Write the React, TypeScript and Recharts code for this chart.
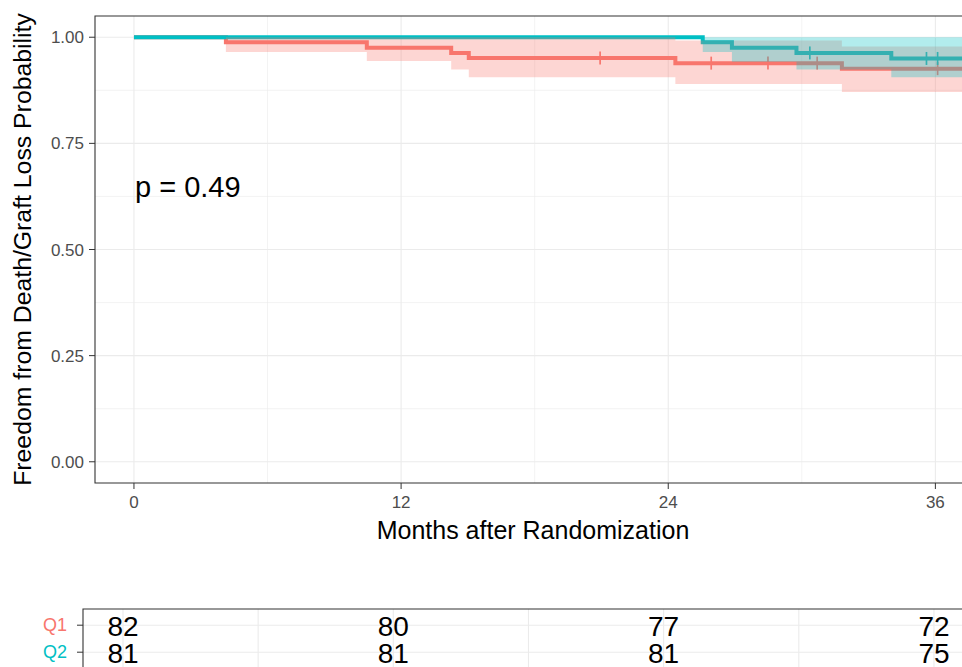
import React from "react";
import {
  ComposedChart,
  Line,
  Area,
  Scatter,
  XAxis,
  YAxis,
  CartesianGrid,
  ReferenceArea,
  ReferenceDot,
  Label,
} from "recharts";

const FONT = '"Liberation Sans", Arial, Helvetica, sans-serif';
const RED = "#F8766D";
const TEAL = "#00BFC4";

// Q1 Kaplan-Meier estimate (months after randomization)
const q1Time = [0, 4.13, 10.46, 14.25, 15.04, 24.32, 31.8, 37.4];
const q1Surv = [1, 0.988, 0.975, 0.963, 0.951, 0.939, 0.926, 0.926];
const q1Lower = [1, 0.965, 0.944, 0.924, 0.906, 0.89, 0.871, 0.871];
const q1Upper = [1, 1, 1, 1, 1, 0.992, 0.978, 0.978];
const q1CensorTime = [20.94, 25.93, 28.48, 30.69, 36.1];
const q1CensorSurv = [0.951, 0.939, 0.939, 0.939, 0.926];

// Q2 Kaplan-Meier estimate
const q2Time = [0, 25.55, 26.86, 29.76, 34.02, 37.4];
const q2Surv = [1, 0.988, 0.975, 0.963, 0.95, 0.95];
const q2Lower = [1, 0.965, 0.942, 0.924, 0.906, 0.906];
const q2Upper = [1, 1, 1, 1, 1, 1];
const q2CensorTime = [30.36, 35.6, 36.1];
const q2CensorSurv = [0.963, 0.95, 0.95];

// axes
const xTicks = [0, 12, 24, 36];
const xMinor = [6, 18, 30];
const yTicks = [0, 0.25, 0.5, 0.75, 1];
const yMinor = [0.125, 0.375, 0.625, 0.875];

// number at risk table
const riskTimes = [0, 12, 24, 36];
const q1Risk = [82, 80, 77, 72];
const q2Risk = [81, 81, 81, 75];
const rowLabels = ["Q1", "Q2"];
const rowColors = [RED, TEAL];

const toCurve = (time: number[], surv: number[], lo: number[], hi: number[]) =>
  time.map((t, i) => ({ t, s: surv[i], ci: [lo[i], hi[i]] }));

const q1Data = toCurve(q1Time, q1Surv, q1Lower, q1Upper);
const q2Data = toCurve(q2Time, q2Surv, q2Lower, q2Upper);
const q1Censor = q1CensorTime.map((t, i) => ({ t, s: q1CensorSurv[i] }));
const q2Censor = q2CensorTime.map((t, i) => ({ t, s: q2CensorSurv[i] }));

const q1Table = riskTimes.map((t, i) => ({ t, row: 1, n: q1Risk[i] }));
const q2Table = riskTimes.map((t, i) => ({ t, row: 2, n: q2Risk[i] }));

const X_DOMAIN: [number, number] = [-1.75, 37.6];

const plus = (color: string) => (props: any) => {
  const { cx, cy } = props;
  if (cx == null || cy == null) return <g />;
  return (
    <g>
      <line x1={cx - 5.5} x2={cx + 5.5} y1={cy} y2={cy} stroke={color} strokeWidth={1.7} />
      <line x1={cx} x2={cx} y1={cy - 6.5} y2={cy + 6.5} stroke={color} strokeWidth={1.7} />
    </g>
  );
};

const riskNumber = (props: any) => {
  const { cx, cy, payload } = props;
  return (
    <text
      x={cx}
      y={cy + 1.5}
      textAnchor="middle"
      dominantBaseline="central"
      fontFamily={FONT}
      fontSize={28}
      fill="#000"
    >
      {payload.n}
    </text>
  );
};

const RowTick = (props: any) => {
  const { x, y, payload } = props;
  const i = payload.value - 1;
  return (
    <text
      x={x}
      y={y}
      textAnchor="end"
      dominantBaseline="central"
      fontFamily={FONT}
      fontSize={18}
      fill={rowColors[i]}
    >
      {rowLabels[i]}
    </text>
  );
};

const tickStyle = { fill: "#4D4D4D", fontSize: 17, fontFamily: FONT };

export default function App() {
  return (
    <div
      style={{
        position: "absolute",
        left: 0,
        top: 0,
        width: 962,
        height: 667,
        overflow: "hidden",
        background: "#fff",
      }}
    >
      <div style={{ position: "absolute", left: 0, top: 0 }}>
        <ComposedChart
          width={1000}
          height={563}
          margin={{ top: 16, right: 29, left: 0, bottom: 0 }}
        >
          <CartesianGrid
            verticalValues={xMinor}
            horizontalValues={yMinor}
            stroke="#EBEBEB"
            strokeWidth={0.6}
          />
          <CartesianGrid
            verticalValues={xTicks}
            horizontalValues={yTicks}
            stroke="#EBEBEB"
            strokeWidth={1.1}
          />
          <XAxis
            type="number"
            dataKey="t"
            domain={X_DOMAIN}
            ticks={xTicks}
            allowDataOverflow
            axisLine={false}
            tickLine={{ stroke: "#333" }}
            tickSize={6}
            tickMargin={7}
            tick={tickStyle}
            height={80}
          >
            <Label
              content={(p: any) => {
                const vb = p.viewBox;
                return (
                  <text
                    x={vb.x + vb.width / 2}
                    y={vb.y + 56}
                    textAnchor="middle"
                    fontFamily={FONT}
                    fontSize={25}
                    fill="#000"
                  >
                    Months after Randomization
                  </text>
                );
              }}
            />
          </XAxis>
          <YAxis
            type="number"
            domain={[-0.05, 1.05]}
            ticks={yTicks}
            allowDataOverflow
            tickFormatter={(v: number) => v.toFixed(2)}
            axisLine={false}
            tickLine={{ stroke: "#333" }}
            tickSize={6}
            tickMargin={5}
            tick={tickStyle}
            width={95}
          >
            <Label
              content={(p: any) => {
                const vb = p.viewBox;
                return (
                  <text
                    transform={`translate(${vb.x + 31},${vb.y + vb.height / 2}) rotate(-90)`}
                    textAnchor="middle"
                    fontFamily={FONT}
                    fontSize={24.8}
                    fill="#000"
                  >
                    Freedom from Death/Graft Loss Probability
                  </text>
                );
              }}
            />
          </YAxis>
          <Line
            data={q1Data}
            dataKey="s"
            type="stepAfter"
            stroke={RED}
            strokeWidth={4}
            dot={false}
            activeDot={false}
            isAnimationActive={false}
          />
          <Line
            data={q2Data}
            dataKey="s"
            type="stepAfter"
            stroke={TEAL}
            strokeWidth={4}
            dot={false}
            activeDot={false}
            isAnimationActive={false}
          />
          <Scatter data={q1Censor} dataKey="s" shape={plus(RED)} isAnimationActive={false} />
          <Scatter data={q2Censor} dataKey="s" shape={plus(TEAL)} isAnimationActive={false} />
          <Area
            data={q1Data}
            dataKey="ci"
            type="stepAfter"
            stroke="none"
            fill={RED}
            fillOpacity={0.3}
            activeDot={false}
            isAnimationActive={false}
            zIndex={700}
          />
          <Area
            data={q2Data}
            dataKey="ci"
            type="stepAfter"
            stroke="none"
            fill={TEAL}
            fillOpacity={0.3}
            activeDot={false}
            isAnimationActive={false}
            zIndex={710}
          />
          <ReferenceDot
            x={0}
            y={0.623}
            r={0}
            fill="none"
            stroke="none"
            label={(p: any) => (
              <text
                x={p.viewBox.x + 1}
                y={p.viewBox.y}
                fontFamily={FONT}
                fontSize={29}
                fill="#000"
              >
                p = 0.49
              </text>
            )}
          />
          <ReferenceArea
            x1={X_DOMAIN[0]}
            x2={X_DOMAIN[1]}
            y1={-0.05}
            y2={1.05}
            fill="none"
            stroke="#333"
            strokeWidth={1.1}
            fillOpacity={0}
          />
        </ComposedChart>
      </div>

      <div style={{ position: "absolute", left: 0, top: 590 }}>
        <ComposedChart
          width={1000}
          height={90}
          margin={{ top: 19, right: 30, left: 0, bottom: 11.6 }}
        >
          <CartesianGrid
            verticalValues={[0, 6, 12, 18, 24, 30, 36]}
            horizontalValues={[1, 2]}
            stroke="#EBEBEB"
            strokeWidth={1.1}
          />
          <XAxis
            type="number"
            dataKey="t"
            domain={[-1.775, 37.6]}
            allowDataOverflow
            hide
          />
          <YAxis
            type="number"
            dataKey="row"
            domain={[0.4, 2.6]}
            reversed
            ticks={[1, 2]}
            allowDataOverflow
            axisLine={false}
            tickLine={{ stroke: "#333" }}
            tickSize={6}
            tickMargin={10}
            tick={<RowTick />}
            width={83}
          />
          <Scatter data={q1Table} dataKey="row" shape={riskNumber} isAnimationActive={false} />
          <Scatter data={q2Table} dataKey="row" shape={riskNumber} isAnimationActive={false} />
          <ReferenceArea
            x1={-1.775}
            x2={37.6}
            y1={0.4}
            y2={2.6}
            fill="none"
            stroke="#333"
            strokeWidth={1.1}
            fillOpacity={0}
          />
        </ComposedChart>
      </div>
    </div>
  );
}
